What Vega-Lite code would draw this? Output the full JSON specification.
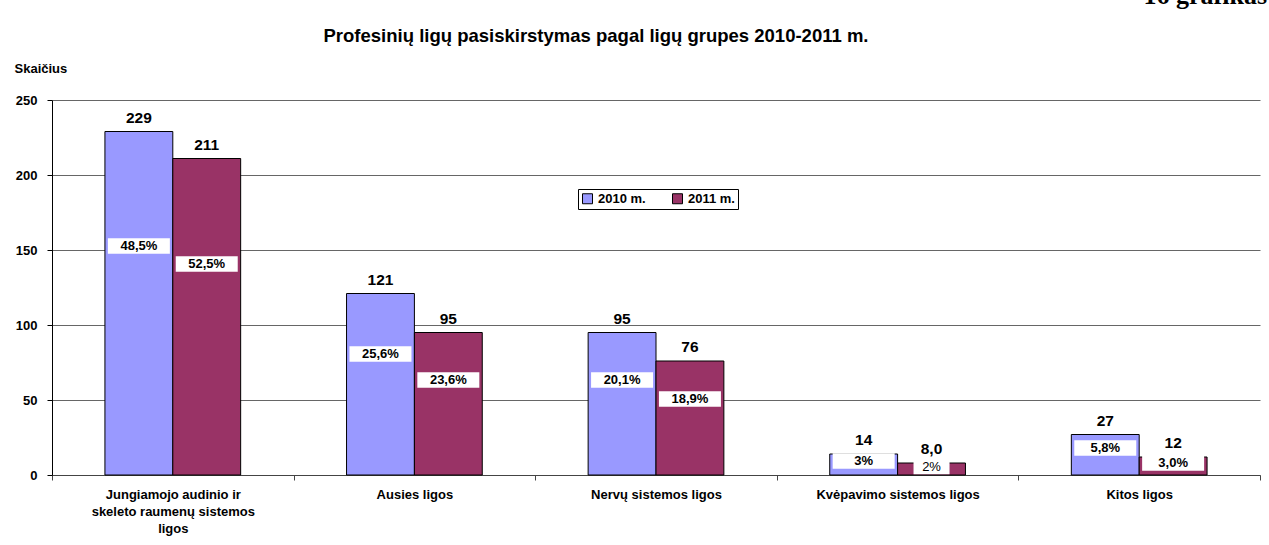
{
  "$schema": "https://vega.github.io/schema/vega-lite/v6.json",
  "width": 1208,
  "height": 375,
  "autosize": {"type": "none"},
  "padding": {"left": 52, "top": 100, "right": 9, "bottom": 70},
  "background": "white",
  "config": {"font": "Liberation Sans", "view": {"stroke": null}},
  "title": {
    "text": "Profesinių ligų pasiskirstymas pagal ligų grupes 2010-2011 m.",
    "anchor": "middle",
    "dx": -60,
    "offset": -63,
    "fontSize": 18.5,
    "fontWeight": "bold",
    "color": "black"
  },
  "data": {
    "values": [
      {"category": "Jungiamojo audinio ir skeleto raumenų sistemos ligos", "year": "2010 m.", "value": 229, "label": "229", "pct": "48,5%"},
      {"category": "Jungiamojo audinio ir skeleto raumenų sistemos ligos", "year": "2011 m.", "value": 211, "label": "211", "pct": "52,5%"},
      {"category": "Ausies ligos", "year": "2010 m.", "value": 121, "label": "121", "pct": "25,6%"},
      {"category": "Ausies ligos", "year": "2011 m.", "value": 95, "label": "95", "pct": "23,6%"},
      {"category": "Nervų sistemos ligos", "year": "2010 m.", "value": 95, "label": "95", "pct": "20,1%"},
      {"category": "Nervų sistemos ligos", "year": "2011 m.", "value": 76, "label": "76", "pct": "18,9%"},
      {"category": "Kvėpavimo sistemos ligos", "year": "2010 m.", "value": 14, "label": "14", "pct": "3%"},
      {"category": "Kvėpavimo sistemos ligos", "year": "2011 m.", "value": 8, "label": "8,0", "pct": "2%"},
      {"category": "Kitos ligos", "year": "2010 m.", "value": 27, "label": "27", "pct": "5,8%"},
      {"category": "Kitos ligos", "year": "2011 m.", "value": 12, "label": "12", "pct": "3,0%"}
    ]
  },
  "encoding": {
    "x": {
      "field": "category",
      "type": "nominal",
      "sort": null,
      "scale": {"paddingInner": 0, "paddingOuter": 0},
      "axis": {
        "title": "16 grafikas",
        "titleFont": "Liberation Serif",
        "titleFontSize": 26,
        "titleFontWeight": "bold",
        "titleColor": "black",
        "titleAlign": "left",
        "titleBaseline": "alphabetic",
        "titleX": 1091,
        "titleY": -472,
        "labelAngle": 0,
        "labelFontSize": 13,
        "labelFontWeight": "bold",
        "labelColor": "black",
        "labelPadding": 8,
        "labelLineHeight": 17,
        "labelLimit": 300,
        "tickBand": "extent",
        "tickSize": 5,
        "tickColor": "#444",
        "domainColor": "#444",
        "labelExpr": "datum.value == 'Jungiamojo audinio ir skeleto raumenų sistemos ligos' ? ['Jungiamojo audinio ir', 'skeleto raumenų sistemos', 'ligos'] : datum.label"
      }
    },
    "xOffset": {
      "field": "year",
      "type": "nominal",
      "scale": {"paddingInner": 0, "paddingOuter": 0.78}
    }
  },
  "layer": [
    {
      "mark": {"type": "bar", "stroke": "black", "strokeWidth": 1},
      "encoding": {
        "y": {
          "field": "value",
          "type": "quantitative",
          "scale": {"domain": [0, 250]},
          "axis": {
            "values": [0, 50, 100, 150, 200, 250],
            "grid": true,
            "gridColor": "#666",
            "domainColor": "black",
            "tickColor": "black",
            "tickSize": 5,
            "labelFontWeight": "bold",
            "labelFontSize": 13,
            "labelColor": "black",
            "labelPadding": 10,
            "title": "Skaičius",
            "titleAngle": 0,
            "titleX": -38,
            "titleY": -32,
            "titleAlign": "left",
            "titleBaseline": "middle",
            "titleFontSize": 13,
            "titleFontWeight": "bold",
            "titleColor": "black"
          }
        },
        "color": {
          "field": "year",
          "type": "nominal",
          "scale": {"domain": ["2010 m.", "2011 m."], "range": ["#9999FF", "#993366"]},
          "legend": {
            "title": null,
            "orient": "none",
            "legendX": 526,
            "legendY": 89,
            "direction": "horizontal",
            "strokeColor": "black",
            "fillColor": "white",
            "padding": 3,
            "columnPadding": 24,
            "symbolType": "square",
            "symbolSize": 100,
            "symbolStrokeColor": "black",
            "symbolStrokeWidth": 1,
            "symbolOpacity": 1,
            "labelFontSize": 13,
            "labelFontWeight": "bold",
            "labelColor": "black",
            "labelOffset": 4
          }
        }
      }
    },
    {
      "mark": {"type": "text", "baseline": "alphabetic", "dy": -9, "fontSize": 15.5, "fontWeight": "bold", "color": "black"},
      "encoding": {
        "y": {"field": "value", "type": "quantitative", "scale": {"domain": [0, 250]}, "axis": null},
        "text": {"field": "label"}
      }
    },
    {
      "transform": [{"filter": "datum.pct != '2%'"}],
      "mark": {"type": "point", "shape": "M-1,-0.25L1,-0.25L1,0.25L-1,0.25Z", "size": 3844, "filled": true, "fill": "white", "opacity": 1, "strokeWidth": 0},
      "encoding": {
        "y": {"field": "value", "type": "quantitative", "scale": {"domain": [0, 375]}, "axis": null}
      }
    },
    {
      "transform": [{"filter": "datum.pct == '2%'"}],
      "mark": {"type": "point", "shape": "M-1,-0.4L1,-0.4L1,0.4L-1,0.4Z", "size": 1296, "filled": true, "fill": "white", "opacity": 1, "strokeWidth": 0},
      "encoding": {
        "y": {"field": "value", "type": "quantitative", "scale": {"domain": [0, 375]}, "axis": null}
      }
    },
    {
      "transform": [{"filter": "datum.pct != '2%'"}],
      "mark": {"type": "text", "baseline": "middle", "fontSize": 13, "fontWeight": "bold", "color": "black"},
      "encoding": {
        "y": {"field": "value", "type": "quantitative", "scale": {"domain": [0, 375]}, "axis": null},
        "text": {"field": "pct"}
      }
    },
    {
      "transform": [{"filter": "datum.pct == '2%'"}],
      "mark": {"type": "text", "baseline": "middle", "fontSize": 13, "fontWeight": "normal", "color": "black"},
      "encoding": {
        "y": {"field": "value", "type": "quantitative", "scale": {"domain": [0, 375]}, "axis": null},
        "text": {"field": "pct"}
      }
    }
  ],
  "resolve": {"scale": {"y": "independent"}}
}
